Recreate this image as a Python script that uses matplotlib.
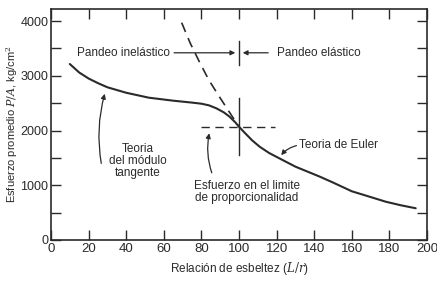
import matplotlib.pyplot as plt
from matplotlib.ticker import MultipleLocator

# ── Data ──────────────────────────────────────────────────
tangent_x = [10, 15, 20, 25, 30, 40, 52, 65, 75, 80, 84, 88, 92, 95, 98, 100,
             103, 107, 111, 116, 121, 130, 143, 150, 160, 170, 178, 186, 194]
tangent_y = [3215, 3060, 2950, 2865, 2790, 2690, 2600, 2545, 2510, 2490, 2460, 2405,
             2330, 2252, 2150, 2070, 1960, 1820, 1704, 1590, 1500, 1340, 1157, 1050,
             890, 785, 700, 635, 580]

euler_x = [69.5, 74, 79, 84, 89.5, 95, 100]
euler_y = [3970, 3600, 3250, 2920, 2620, 2330, 2070]

x_ticks = [0, 20, 40, 60, 80, 100, 120, 140, 160, 180, 200]
y_ticks = [0, 1000, 2000, 3000, 4000]

INK = '#2a2a2a'
plt.rcParams['font.family'] = ['Liberation Sans', 'DejaVu Sans']
plt.rcParams['mathtext.fontset'] = 'dejavuserif'

fig = plt.figure(figsize=(4.37, 2.82), dpi=100)
ax = fig.add_axes([51 / 437, 1 - 240 / 282, 376 / 437, 231 / 282])

# ── Curves ───────────────────────────────────────────────
ax.plot(tangent_x, tangent_y, color=INK, lw=1.5, solid_capstyle='round')
ax.plot(euler_x, euler_y, color=INK, lw=1.2, ls=(0, (6, 4)))

# proportional limit cross
ax.plot([80, 119], [2060, 2060], color=INK, lw=1.0, ls=(0, (6, 4)))
ax.plot([100, 100], [1550, 2600], color=INK, lw=1.0)

# ── Axes styling ─────────────────────────────────────────
ax.set_xlim(0, 200)
ax.set_ylim(0, 4220)
ax.set_xticks(x_ticks)
ax.set_yticks(y_ticks)
ax.yaxis.set_minor_locator(MultipleLocator(500))
ax.tick_params(which='both', direction='in', top=True, right=True,
               length=7, width=1.0, color=INK, labelsize=9.5,
               labelcolor=INK, pad=2)
ax.tick_params(axis='y', labelsize=9)
for s in ax.spines.values():
    s.set_color(INK)
    s.set_linewidth(1.2)

ax.set_xlabel('Relación de esbeltez ($L/r$)', fontsize=8.5, color=INK, labelpad=4)
ax.set_ylabel('Esfuerzo promedio $P/A$, kg/cm$^2$', fontsize=8, color=INK,
              va='center')
ax.yaxis.set_label_coords(-0.103, 0.5)

# ── Annotations ──────────────────────────────────────────
ax.text(14, 3420, 'Pandeo inelástico', fontsize=8.5, color=INK, va='center')
ax.annotate('', xy=(99.5, 3420), xytext=(64, 3420),
            arrowprops=dict(arrowstyle='-|>', color=INK, lw=0.9,
                            mutation_scale=7))
ax.plot([100, 100], [3200, 3640], color=INK, lw=1.0)
ax.annotate('', xy=(100.5, 3420), xytext=(117, 3420),
            arrowprops=dict(arrowstyle='-|>', color=INK, lw=0.9,
                            mutation_scale=7))
ax.text(120, 3420, 'Pandeo elástico', fontsize=8.5, color=INK, va='center')

ax.text(46, 1450, 'Teoria\ndel módulo\ntangente', fontsize=8.5, color=INK,
        ha='center', va='center', linespacing=1.0)
ax.annotate('', xy=(29, 2720), xytext=(27, 1350),
            arrowprops=dict(arrowstyle='-|>', color=INK, lw=0.9,
                            mutation_scale=7,
                            connectionstyle='arc3,rad=-0.12'))

ax.text(104, 880, 'Esfuerzo en el limite\nde proporcionalidad', fontsize=8.5,
        color=INK, ha='center', va='center', linespacing=1.0)
ax.annotate('', xy=(84.5, 2000), xytext=(86, 1180),
            arrowprops=dict(arrowstyle='-|>', color=INK, lw=0.9,
                            mutation_scale=7,
                            connectionstyle='arc3,rad=-0.15'))

ax.text(132, 1735, 'Teoria de Euler', fontsize=8.5, color=INK, va='center')
ax.annotate('', xy=(121.5, 1510), xytext=(132, 1735),
            arrowprops=dict(arrowstyle='-|>', color=INK, lw=0.9,
                            mutation_scale=7,
                            connectionstyle='arc3,rad=0.2'))

fig.savefig('out.png', dpi=100)
